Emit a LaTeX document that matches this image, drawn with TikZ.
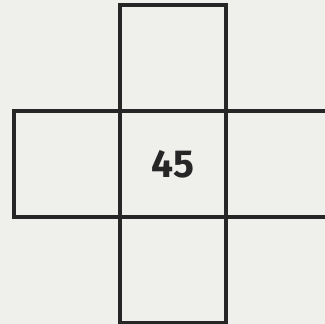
\documentclass[tikz,border=0pt]{standalone}
\usepackage{fontspec}
\setsansfont{Fira Sans}
\usepackage{xcolor}
\usepackage{tikz}
\usetikzlibrary{positioning}
\definecolor{paper}{HTML}{EFEFEC}
\definecolor{ink}{HTML}{262626}
\tikzset{
  cell/.style={draw=ink,line width=3.4pt,minimum size=106pt,inner sep=0pt,outer sep=0pt},
  numtext/.style={font=\sffamily\bfseries\fontsize{39}{39}\selectfont,text=ink},
}

\begin{document}
\begin{tikzpicture}[x=1pt,y=1pt]
  \fill[paper] (0,0) rectangle (325,324);
  \clip (0,0) rectangle (325,324);

  \node[cell] (mid) at (173,160) {};
  \node[cell,above=0pt of mid] (top) {};
  \node[cell,below=0pt of mid] (bottom) {};
  \node[cell,left=0pt of mid] (left) {};
  \node[cell,right=0pt of mid] (right) {};

  \node[numtext] (num) at (mid) {45};
\end{tikzpicture}
\end{document}
